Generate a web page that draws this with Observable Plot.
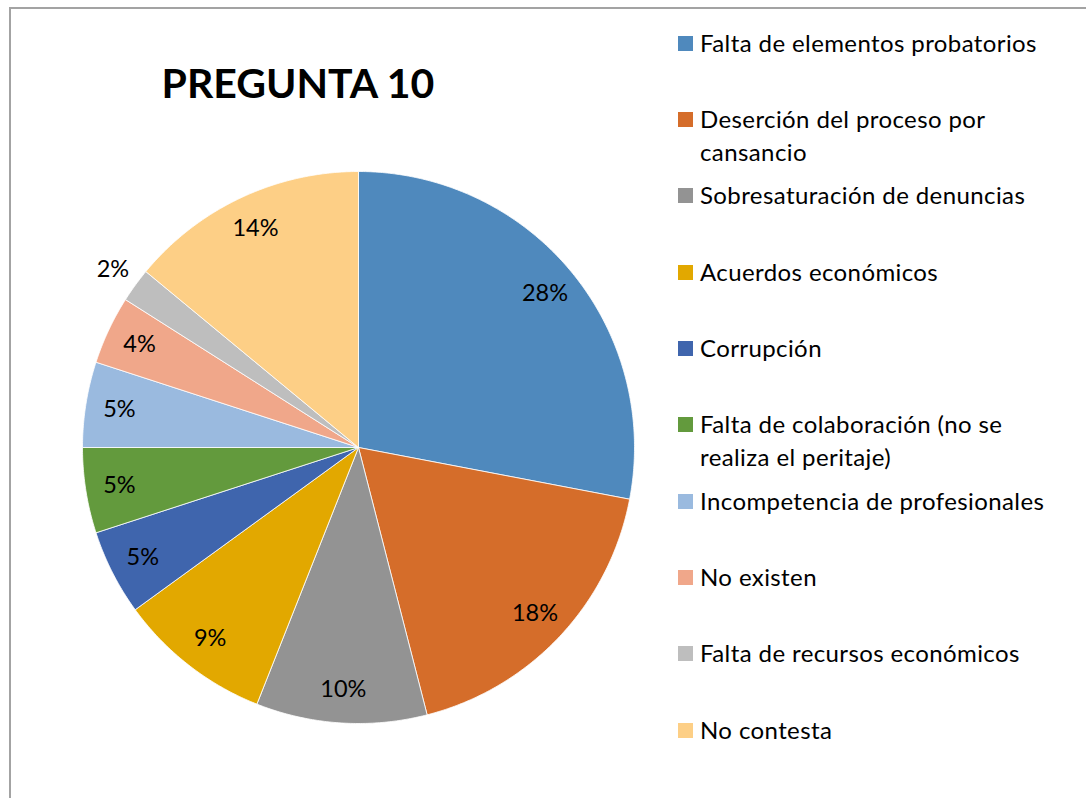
<!DOCTYPE html>
<html>
<head>
<meta charset="utf-8">
<script src="https://cdn.jsdelivr.net/npm/d3@7"></script>
<script src="https://cdn.jsdelivr.net/npm/@observablehq/plot@0.6"></script>
<style>
  html, body { margin: 0; padding: 0; background: #fff; }
  body { width: 1086px; height: 798px; position: relative; overflow: hidden; font-family: Lato, "Open Sans", sans-serif; color: #000; }
  #frame { position: absolute; left: 9px; top: 7px; width: 1090px; height: 800px; border-left: 2px solid #a3a3a3; border-top: 2px solid #a3a3a3; box-sizing: border-box; }
  #title { position: absolute; left: 98px; width: 400px; top: 55px; text-align: center; font-weight: 700; font-size: 41px; line-height: 56px; }
  #pie { position: absolute; left: 58px; top: 147px; }
  .item { position: absolute; left: 678px; width: 400px; font-size: 24px; letter-spacing: 0.4px; line-height: 33px; }
  .sw { position: absolute; left: 0; top: 10px; width: 15px; height: 15px; }
  .txt { position: absolute; left: 22px; width: 362px; }
</style>
</head>
<body>
<div id="frame"></div>
<div id="title">PREGUNTA 10</div>
<div id="pie"></div>
<div id="legend"></div>
<script>
const categories = [
  "Falta de elementos probatorios",
  "Deserción del proceso por cansancio",
  "Sobresaturación de denuncias",
  "Acuerdos económicos",
  "Corrupción",
  "Falta de colaboración (no se realiza el peritaje)",
  "Incompetencia de profesionales",
  "No existen",
  "Falta de recursos económicos",
  "No contesta"
];
const percents = [28, 18, 10, 9, 5, 5, 5, 4, 2, 14];
const colors = ["#4f89bd", "#d56d2a", "#939393", "#e2a800", "#3f65ad", "#639a3d", "#9abadf", "#f0a78a", "#bebebe", "#fdcf86"];

const total = d3.sum(percents);
const arcs = d3.pie().sort(null).value(d => d)(percents);

// Polygons for slices (angles clockwise from 12 o'clock, unit radius)
const polyPts = [];
arcs.forEach((a, i) => {
  const name = categories[i];
  polyPts.push({name, x: 0, y: 0});
  const n = Math.max(2, Math.ceil((a.endAngle - a.startAngle) / (Math.PI / 360)));
  for (let k = 0; k <= n; k++) {
    const t = a.startAngle + (a.endAngle - a.startAngle) * k / n;
    polyPts.push({name, x: Math.sin(t), y: Math.cos(t)});
  }
  polyPts.push({name, x: 0, y: 0});
});

const labels = arcs.map((a, i) => {
  const mid = (a.startAngle + a.endAngle) / 2;
  const share = percents[i] / total;
  const r = share < 0.03 ? 1.1 : 0.877;
  return {x: Math.sin(mid) * r, y: Math.cos(mid) * r, text: Math.round(share * 100) + "%"};
});

const ext = 300 / 276;
const chart = Plot.plot({
  width: 600,
  height: 600,
  margin: 0,
  x: {domain: [-ext, ext], axis: null},
  y: {domain: [-ext, ext], axis: null},
  color: {domain: categories, range: colors},
  style: {fontFamily: "Lato, 'Open Sans', sans-serif", background: "transparent"},
  marks: [
    Plot.line(polyPts, {x: "x", y: "y", z: "name", fill: "name", stroke: "#fff", strokeWidth: 1, strokeOpacity: 0.8, curve: "linear"}),
    Plot.text(labels, {x: "x", y: "y", text: "text", fontSize: 23.5, fill: "#000"})
  ]
});
document.getElementById("pie").appendChild(chart);

const legend = document.getElementById("legend");
const first = 42, step = (729 - 42) / (categories.length - 1);
categories.forEach((c, i) => {
  const item = document.createElement("div");
  item.className = "item";
  item.style.top = (first + i * step - 16.5) + "px";
  const sw = document.createElement("div");
  sw.className = "sw";
  sw.style.background = colors[i];
  const tx = document.createElement("div");
  tx.className = "txt";
  tx.textContent = c;
  item.appendChild(sw);
  item.appendChild(tx);
  legend.appendChild(item);
});
</script>
</body>
</html>
